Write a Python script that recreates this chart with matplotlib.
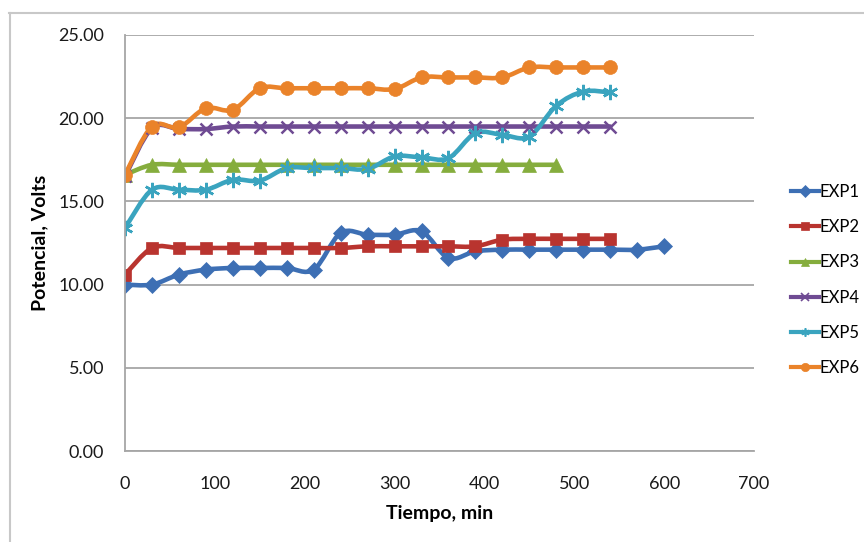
import numpy as np
import matplotlib
matplotlib.use("Agg")
import matplotlib.pyplot as plt
from matplotlib.path import Path
from matplotlib.patches import PathPatch
from matplotlib.lines import Line2D

plt.rcParams['font.family'] = ['Lato', 'DejaVu Sans']

# datos
tiempo = [0, 30, 60, 90, 120, 150, 180, 210, 240, 270, 300, 330, 360, 390,
          420, 450, 480, 510, 540, 570, 600]

exp1 = [10.0, 10.0, 10.6, 10.9, 11.0, 11.0, 11.0, 10.9, 13.1, 13.0, 13.0,
        13.2, 11.6, 12.0, 12.1, 12.1, 12.1, 12.1, 12.1, 12.1, 12.3]
exp2 = [10.6, 12.2, 12.2, 12.2, 12.2, 12.2, 12.2, 12.2, 12.2, 12.3, 12.3,
        12.3, 12.3, 12.3, 12.7, 12.75, 12.75, 12.75, 12.75]
exp3 = [16.6, 17.2, 17.2, 17.2, 17.2, 17.2, 17.2, 17.2, 17.2, 17.2, 17.2,
        17.2, 17.2, 17.2, 17.2, 17.2, 17.2]
exp4 = [16.5, 19.4, 19.35, 19.35, 19.5, 19.5, 19.5, 19.5, 19.5, 19.5, 19.5,
        19.5, 19.5, 19.5, 19.5, 19.5, 19.5, 19.5, 19.5]
exp5 = [13.4, 15.7, 15.7, 15.7, 16.3, 16.25, 17.0, 17.0, 17.0, 16.95, 17.7,
        17.65, 17.6, 19.1, 19.0, 18.9, 20.75, 21.6, 21.55]
exp6 = [16.6, 19.5, 19.45, 20.6, 20.5, 21.8, 21.8, 21.8, 21.8, 21.8, 21.75,
        22.45, 22.45, 22.45, 22.45, 23.05, 23.05, 23.05, 23.05]

series = [exp1, exp2, exp3, exp4, exp5, exp6]
nombres = ['EXP1', 'EXP2', 'EXP3', 'EXP4', 'EXP5', 'EXP6']
colores = ['#3D6FB4', '#B9342F', '#85AD3D', '#6F4B93', '#3AA4BF', '#EA832A']
marcadores = ['D', 's', '^', 'x', (6, 2, 0), 'o']
tam = [8, 9, 10, 9, 11, 10]


def curva_suave(x, y):
    # curva tipo Excel (bezier por tramos)
    p = np.column_stack([x, y]).astype(float)
    ext = np.vstack([p[0], p, p[-1]])
    verts = [p[0]]
    codes = [Path.MOVETO]
    for i in range(len(p) - 1):
        p0, p1, p2, p3 = ext[i], ext[i + 1], ext[i + 2], ext[i + 3]
        verts += [p1 + (p2 - p0) / 6, p2 - (p3 - p1) / 6, p2]
        codes += [Path.CURVE4] * 3
    return Path(verts, codes)


fig = plt.figure(figsize=(8.64, 5.42), dpi=100)
ax = fig.add_axes([125 / 864, 91 / 542, 629 / 864, 416 / 542])

for ys, nom, c, m, ms in zip(series, nombres, colores, marcadores, tam):
    xs = tiempo[:len(ys)]
    ax.add_patch(PathPatch(curva_suave(xs, ys), fill=False, edgecolor=c,
                           lw=3.3, capstyle='round', joinstyle='round'))
    ax.plot(xs, ys, ls='none', marker=m, color=c, markersize=ms,
            markeredgewidth=1.8 if m in ('x', (6, 2, 0)) else 0.5,
            markeredgecolor=c)

ax.set_xlim(0, 700)
ax.set_ylim(0, 25)
ax.set_xticks(range(0, 701, 100))
ax.set_yticks(np.arange(0, 25.1, 5))
ax.set_yticklabels(['%.2f' % v for v in np.arange(0, 25.1, 5)])
ax.yaxis.grid(True, color='#A6A6A6', lw=1.3)
ax.set_axisbelow(True)
for s in ['top', 'right']:
    ax.spines[s].set_visible(False)
for s in ['left', 'bottom']:
    ax.spines[s].set_color('#A6A6A6')
    ax.spines[s].set_linewidth(1.3)
ax.tick_params(length=0, labelsize=13, colors='#1a1a1a')
ax.tick_params(axis='x', pad=18)
ax.tick_params(axis='y', pad=15)

ax.set_xlabel('Tiempo, min', fontsize=14, fontweight='bold', labelpad=9)
ax.set_ylabel('Potencial, Volts', fontsize=14, fontweight='bold', labelpad=7)

handles = [Line2D([0], [0], color=c, lw=3, marker=m, markersize=6,
                  markeredgewidth=1.2 if m in ('x', (6, 2, 0)) else 0.5,
                  markeredgecolor=c)
           for c, m in zip(colores, marcadores)]
fig.legend(handles, nombres, loc='center left',
           bbox_to_anchor=(791 / 864, 1 - 280 / 542), frameon=False,
           fontsize=12, handlelength=1.65, handletextpad=0.05,
           labelspacing=1.15, borderpad=0, borderaxespad=0)

# borde exterior
fig.add_artist(Line2D([9.5 / 864, 9.5 / 864], [0, 1 - 13 / 542],
                      transform=fig.transFigure, color='#C8C8C8', lw=1.5))
fig.add_artist(Line2D([9 / 864, 1], [1 - 13 / 542, 1 - 13 / 542],
                      transform=fig.transFigure, color='#C8C8C8', lw=1.5))

fig.savefig('out.png', dpi=100)
